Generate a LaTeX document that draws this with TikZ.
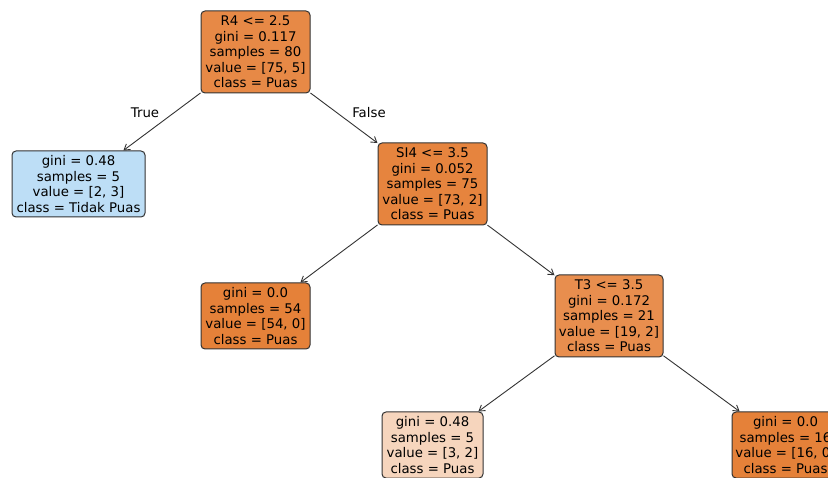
\documentclass[tikz,border=0pt]{standalone}
\usepackage{fontspec}
\setmainfont{DejaVu Sans}
\usetikzlibrary{arrows.meta}
\definecolor{pure}{RGB}{229,129,57}
\definecolor{rootc}{RGB}{231,137,70}
\definecolor{sifill}{RGB}{230,132,62}
\definecolor{tfill}{RGB}{232,142,78}
\definecolor{lightor}{RGB}{246,213,189}
\definecolor{lightbl}{RGB}{189,222,246}
\definecolor{edgec}{RGB}{51,51,51}
\tikzset{
  treebox/.style={draw=edgec, line width=1pt, rounded corners=4pt, align=center,
    inner sep=0pt, text=black, font=\fontsize{13.3}{15.5}\selectfont},
  conn/.style={draw=edgec, line width=0.9pt, -{Straight Barb[length=5.5pt,width=7pt]}},
  lbl/.style={font=\fontsize{13.3}{15.5}\selectfont, text=black}
}
\begin{document}
\begin{tikzpicture}[x=1pt,y=-1pt]
\useasboundingbox (0,0) rectangle (828,478);
\clip (0,0) rectangle (828,478);
\node[treebox, fill=rootc, minimum width=109pt, minimum height=82pt] (root) at (255.5,52)
  {R4 <= 2.5\\gini = 0.117\\samples = 80\\value = [75, 5]\\class = Puas};
\node[treebox, fill=lightbl, minimum width=133pt, minimum height=66pt] (l1) at (78.5,184)
  {gini = 0.48\\samples = 5\\value = [2, 3]\\class = Tidak Puas};
\node[treebox, fill=sifill, minimum width=109pt, minimum height=82pt] (si) at (432.5,184)
  {SI4 <= 3.5\\gini = 0.052\\samples = 75\\value = [73, 2]\\class = Puas};
\node[treebox, fill=pure, minimum width=109pt, minimum height=66pt] (l2) at (255.5,316)
  {gini = 0.0\\samples = 54\\value = [54, 0]\\class = Puas};
\node[treebox, fill=tfill, minimum width=108pt, minimum height=82pt] (t3) at (609,316)
  {T3 <= 3.5\\gini = 0.172\\samples = 21\\value = [19, 2]\\class = Puas};
\node[treebox, fill=lightor, minimum width=101pt, minimum height=66pt] (l3) at (432.5,445)
  {gini = 0.48\\samples = 5\\value = [3, 2]\\class = Puas};
\node[treebox, fill=pure, minimum width=107pt, minimum height=66pt] (l4) at (785.5,445)
  {gini = 0.0\\samples = 16\\value = [16, 0]\\class = Puas};
\draw[conn] (root) -- (l1);
\draw[conn] (root) -- (si);
\draw[conn] (si) -- (l2);
\draw[conn] (si) -- (t3);
\draw[conn] (t3) -- (l3);
\draw[conn] (t3) -- (l4);
\node[lbl] (tlab) at (145,113) {True};
\node[lbl] (flab) at (369,113) {False};
\end{tikzpicture}
\end{document}
